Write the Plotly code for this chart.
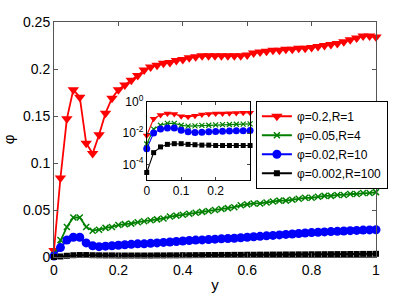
import plotly.graph_objects as go

# ---- data ----
y_pos = [round(i * 0.02, 2) for i in range(51)]

phi_red = [0.007, 0.084, 0.147, 0.178, 0.170, 0.121, 0.110, 0.130, 0.153, 0.169, 0.178,
           0.183, 0.188, 0.193, 0.199, 0.202, 0.204, 0.206, 0.207, 0.209, 0.210,
           0.212, 0.213, 0.214, 0.214, 0.214, 0.214, 0.214, 0.214, 0.214, 0.215,
           0.217, 0.218, 0.219, 0.220, 0.220, 0.221, 0.221, 0.222, 0.222, 0.223,
           0.224, 0.225, 0.226, 0.227, 0.229, 0.231, 0.233, 0.235, 0.235, 0.234]

phi_green = [0.002, 0.018, 0.032, 0.042, 0.042, 0.032, 0.028, 0.029, 0.031, 0.032, 0.034,
             0.035, 0.0355, 0.037, 0.038, 0.039, 0.040, 0.041, 0.043, 0.044, 0.045,
             0.046, 0.047, 0.048, 0.049, 0.050, 0.051, 0.052, 0.053, 0.055, 0.056,
             0.057, 0.057, 0.058, 0.059, 0.060, 0.060, 0.061, 0.062, 0.063, 0.063,
             0.064, 0.065, 0.065, 0.066, 0.066, 0.067, 0.067, 0.068, 0.068, 0.069]

phi_blue = [0.001, 0.010, 0.018, 0.021, 0.021, 0.015, 0.012, 0.011, 0.0115, 0.012, 0.0125,
            0.013, 0.0135, 0.014, 0.014, 0.0145, 0.015, 0.0155, 0.016, 0.0165, 0.017,
            0.0175, 0.018, 0.0182, 0.0185, 0.019, 0.0193, 0.0197, 0.020, 0.0205, 0.021,
            0.0215, 0.022, 0.0225, 0.023, 0.0235, 0.024, 0.0245, 0.025, 0.0255, 0.026,
            0.0263, 0.0267, 0.027, 0.0273, 0.0277, 0.028, 0.0283, 0.0286, 0.0288, 0.029]

phi_black = [3e-5, 5.6e-4, 0.0013, 0.0019, 0.0021, 0.0021, 0.0019, 0.0018, 0.0017, 0.0017, 0.0016,
             0.0016, 0.0016, 0.0016, 0.0016, 0.0016, 0.0017, 0.0017, 0.0018, 0.0018, 0.0019,
             0.0019, 0.0020, 0.0020, 0.0021, 0.0021, 0.0022, 0.0022, 0.0023, 0.0023, 0.0024,
             0.0024, 0.0025, 0.0025, 0.0026, 0.0026, 0.0027, 0.0027, 0.0028, 0.0028, 0.0029,
             0.0029, 0.0030, 0.0030, 0.0031, 0.0031, 0.0032, 0.0032, 0.0033, 0.0033, 0.0034]

names = ["φ=0.2,R=1", "φ=0.05,R=4", "φ=0.02,R=10", "φ=0.002,R=100"]
x_ticks = [0, 0.2, 0.4, 0.6, 0.8, 1]
x_ticklabels = ["0", "0.2", "0.4", "0.6", "0.8", "1"]
y_ticks = [0, 0.05, 0.1, 0.15, 0.2, 0.25]
y_ticklabels = ["0", "0.05", "0.1", "0.15", "0.2", "0.25"]
inset_x_ticks = [0, 0.1, 0.2]
inset_x_ticklabels = ["0", "0.1", "0.2"]
inset_y_ticks = [1, 1e-2, 1e-4]
inset_y_ticklabels = ["10<sup>0</sup>", "10<sup>-2</sup>", "10<sup>-4</sup>"]
n_inset = 16  # points with y <= 0.3

# ---- styles ----
series = [
    (phi_red, "#ff0000", dict(symbol="triangle-down", size=10), dict(symbol="triangle-down", size=7)),
    (phi_green, "#008000", dict(symbol="x-thin", size=6, line=dict(width=1.5, color="#008000")),
     dict(symbol="x-thin", size=5, line=dict(width=1.2, color="#008000"))),
    (phi_blue, "#0000ff", dict(symbol="circle", size=9), dict(symbol="circle", size=7)),
    (phi_black, "#000000", dict(symbol="square", size=6), dict(symbol="square", size=5)),
]

fig = go.Figure()
for (vals, col, mk, mk_in), nm in zip(series, names):
    fig.add_trace(go.Scatter(x=y_pos, y=vals, mode="lines+markers", name=nm,
                             line=dict(color=col, width=1.8), marker=dict(color=col, **mk),
                             cliponaxis=False, xaxis="x", yaxis="y"))
for (vals, col, mk, mk_in), nm in zip(series, names):
    fig.add_trace(go.Scatter(x=y_pos[:n_inset], y=vals[:n_inset], mode="lines+markers", name=nm,
                             showlegend=False,
                             line=dict(color=col, width=1.1), marker=dict(color=col, **mk_in),
                             cliponaxis=False, xaxis="x2", yaxis="y2"))

font = "Liberation Sans, Arial, Helvetica, sans-serif"
axcol = "#555555"
fig.update_layout(
    width=415, height=297,
    margin=dict(l=54, r=39, t=22, b=40, autoexpand=False),
    paper_bgcolor="white", plot_bgcolor="white",
    font=dict(family=font, size=14, color="black"),
    xaxis=dict(domain=[0, 1], range=[0, 1], tickvals=x_ticks, ticktext=x_ticklabels,
               ticks="inside", ticklen=4, tickcolor=axcol, showline=True, linecolor=axcol,
               linewidth=1, mirror="ticks", showgrid=False, zeroline=False, automargin=False,
               title=dict(text="y", font=dict(size=15), standoff=2)),
    yaxis=dict(domain=[0, 1], range=[0, 0.25], tickvals=y_ticks, ticktext=y_ticklabels,
               ticks="inside", ticklen=4, tickcolor=axcol, showline=True, linecolor=axcol,
               linewidth=1, mirror="ticks", showgrid=False, zeroline=False, automargin=False,
               title=dict(text="φ", font=dict(size=15), standoff=4)),
    xaxis2=dict(domain=[0.288, 0.609], anchor="y2", range=[0, 0.3], tickvals=inset_x_ticks,
                ticktext=inset_x_ticklabels, ticks="inside", ticklen=3, showline=True,
                linecolor="black", linewidth=1, mirror="ticks", showgrid=False, zeroline=False,
                automargin=False, tickfont=dict(size=12)),
    yaxis2=dict(domain=[0.328, 0.66], anchor="x2", type="log", range=[-5, 0],
                tickvals=inset_y_ticks, ticktext=inset_y_ticklabels, ticks="inside", ticklen=3,
                showline=True, linecolor="black", linewidth=1, mirror="ticks", showgrid=False,
                zeroline=False, automargin=False, tickfont=dict(size=12)),
    legend=dict(x=0.627, y=0.665, xanchor="left", yanchor="top", bgcolor="white",
                bordercolor="black", borderwidth=1, font=dict(size=12), itemwidth=30,
                tracegroupgap=0),
    showlegend=True,
)

fig.write_html("out.html", config={"displayModeBar": False},
               post_script="document.body.style.margin='0px';document.body.style.overflow='hidden';")
